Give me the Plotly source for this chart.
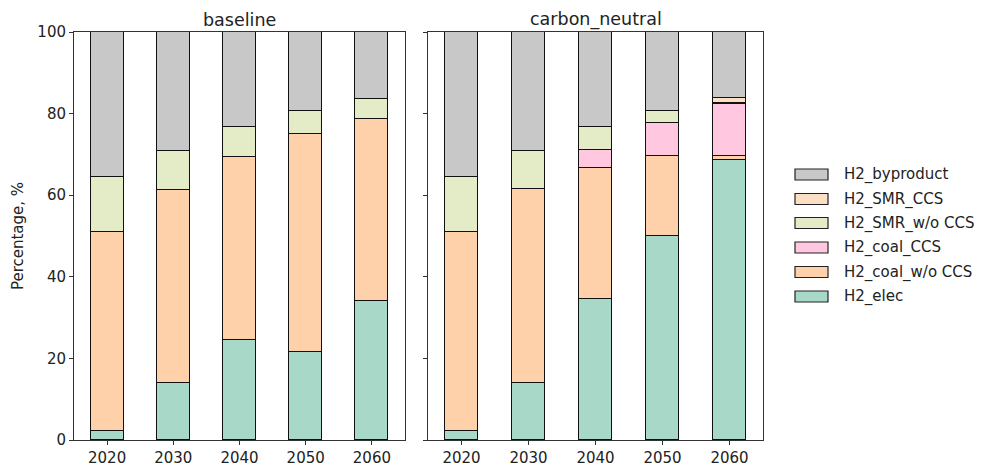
import plotly.graph_objects as go

years = ["2020", "2030", "2040", "2050", "2060"]
scenarios = ["baseline", "carbon_neutral"]

# Bottom-to-top stacking order
tech = ["H2_elec", "H2_coal_w/o CCS", "H2_coal_CCS", "H2_SMR_w/o CCS", "H2_SMR_CCS", "H2_byproduct"]
colors = ["#a8d8c8", "#ffd1aa", "#ffc8e0", "#e3ecc6", "#fbdfc4", "#c8c8c8"]

baseline = {
    "H2_elec":         [2.3, 13.9, 24.4, 21.6, 34.0],
    "H2_coal_w/o CCS": [48.6, 47.4, 45.0, 53.3, 44.8],
    "H2_coal_CCS":     [0.0, 0.0, 0.0, 0.0, 0.0],
    "H2_SMR_w/o CCS":  [13.5, 9.5, 7.3, 5.7, 4.9],
    "H2_SMR_CCS":      [0.0, 0.0, 0.0, 0.0, 0.0],
    "H2_byproduct":    [35.6, 29.2, 23.3, 19.4, 16.3],
}
carbon_neutral = {
    "H2_elec":         [2.3, 14.0, 34.5, 49.9, 68.6],
    "H2_coal_w/o CCS": [48.6, 47.5, 32.1, 19.8, 0.9],
    "H2_coal_CCS":     [0.0, 0.0, 4.4, 7.9, 12.9],
    "H2_SMR_w/o CCS":  [13.5, 9.3, 5.7, 3.0, 0.2],
    "H2_SMR_CCS":      [0.0, 0.0, 0.0, 0.0, 1.2],
    "H2_byproduct":    [35.6, 29.2, 23.3, 19.4, 16.2],
}
data = {"baseline": baseline, "carbon_neutral": carbon_neutral}

# Page body has an 8px default margin; the figure is sized/offset to compensate.
OFF = 8
W, H = 985 - OFF, 466 - OFF
PL, PR, PT, PB = 74, 763, 32, 440          # plot area edges in page pixels
ml, mr, mt, mb = PL - OFF, W - (PR - OFF), PT - OFF, H - (PB - OFF)
pw = PR - PL
ph = PB - PT
left_dom = [0, (405 - PL) / pw]
right_dom = [(428 - PL) / pw, 1]

def px_x(px):
    return (px - PL) / pw

def px_y(py):
    return (PB - py) / ph

fig = go.Figure()
for si, sc in enumerate(scenarios):
    xa = "x" if si == 0 else "x2"
    ya = "y" if si == 0 else "y2"
    for t, c in zip(tech, colors):
        vals = [v if v > 0 else None for v in data[sc][t]]
        fig.add_trace(go.Bar(
            x=years, y=vals, name=t, width=0.5,
            marker=dict(color=c, line=dict(color="#111111", width=1.2)),
            xaxis=xa, yaxis=ya, showlegend=False,
        ))

font = "DejaVu Sans, sans-serif"
tc = "#222222"

# Legend drawn as shapes + text (reversed stacking order, top entry = byproduct)
legend_rows_y = [174.5, 199, 223, 247.5, 272, 296.5]
shapes = []
annots = []
for i, (t, c) in enumerate(zip(reversed(tech), reversed(colors))):
    yc = legend_rows_y[i]
    shapes.append(dict(type="rect", xref="paper", yref="paper",
                       x0=px_x(795), x1=px_x(828), y0=px_y(yc + 5.5), y1=px_y(yc - 5.5),
                       fillcolor=c, line=dict(color="#222222", width=1.2)))
    annots.append(dict(text=t, xref="paper", yref="paper", x=px_x(842), y=px_y(yc),
                       xanchor="left", yanchor="middle", showarrow=False,
                       font=dict(family=font, size=15, color=tc)))

annots += [
    dict(text="baseline", x=sum(left_dom) / 2, y=1, xref="paper", yref="paper",
         xanchor="center", yanchor="bottom", yshift=0, showarrow=False,
         font=dict(family=font, size=17.5, color=tc)),
    dict(text="carbon_neutral", x=sum(right_dom) / 2, y=1, xref="paper", yref="paper",
         xanchor="center", yanchor="bottom", yshift=0, showarrow=False,
         font=dict(family=font, size=17.5, color=tc)),
]

axis_common = dict(showline=True, linecolor="#333333", linewidth=1, mirror=True,
                   ticks="outside", ticklen=4, tickcolor="#333333", showgrid=False,
                   zeroline=False, automargin=False,
                   tickfont=dict(family=font, size=15, color=tc))
fig.update_layout(
    width=W, height=H, barmode="stack", bargap=0,
    margin=dict(l=ml, r=mr, t=mt, b=mb, autoexpand=False),
    paper_bgcolor="white", plot_bgcolor="white",
    showlegend=False,
    xaxis=dict(domain=left_dom, type="category", range=[-0.5, 4.5], anchor="y", **axis_common),
    xaxis2=dict(domain=right_dom, type="category", range=[-0.5, 4.5], anchor="y2", **axis_common),
    yaxis=dict(range=[0, 100], tickvals=[0, 20, 40, 60, 80, 100], anchor="x",
               title=dict(text="Percentage, %", font=dict(family=font, size=15, color=tc), standoff=10),
               **axis_common),
    yaxis2=dict(range=[0, 100], tickvals=[0, 20, 40, 60, 80, 100], anchor="x2",
                showticklabels=False, **axis_common),
    shapes=shapes,
    annotations=annots,
)

fig.write_html("out.html")
